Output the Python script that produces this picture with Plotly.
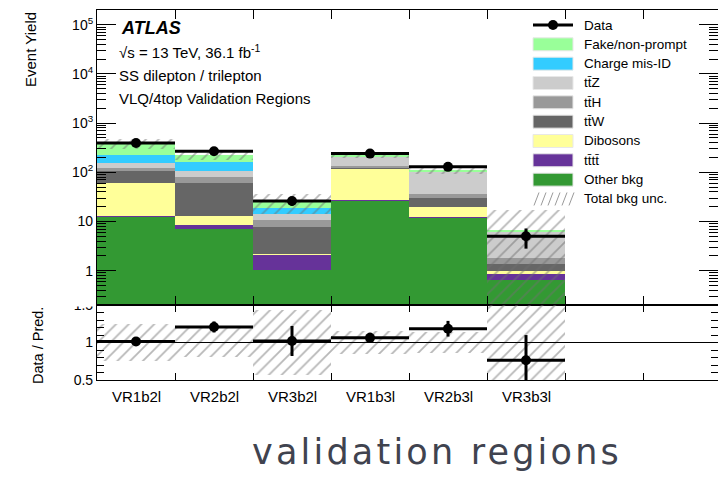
import math
import plotly.graph_objects as go

# ---------------------------------------------------------------------------
# Yields per validation region
# ---------------------------------------------------------------------------
regions = ["VR1b2l", "VR2b2l", "VR3b2l", "VR1b3l", "VR2b3l", "VR3b3l"]

# background components, listed from the bottom of the stack upwards
other_bkg    = [12.9, 7.0, 1.03, 27.2, 12.1, 0.65]
tttt         = [0.3, 1.5, 1.05, 0.3, 0.3, 0.21]
dibosons     = [47.8, 4.6, 0.1, 91.5, 7.5, 0.14]
ttW          = [46.0, 47.9, 5.6, 7.0, 9.5, 0.37]
ttH          = [18.0, 18.0, 2.7, 8.0, 7.6, 0.41]
ttZ          = [30.0, 28.0, 3.4, 71.0, 68.0, 4.42]
charge_misid = [67.0, 53.0, 4.6, 0.0, 0.0, 0.0]
fake_np      = [168.0, 62.0, 7.0, 21.0, 4.0, 0.35]

bkg_unc  = [97.0, 44.0, 11.0, 34.0, 15.0, 10.5]   # total background uncertainty
data     = [395, 268, 26, 240, 129, 5]
data_err = [19.9, 16.4, 5.1, 15.5, 11.4, 2.2]

components = [
    ("Other bkg", other_bkg, "#339933"),
    ("t\u0074\u0304t\u0074\u0304", tttt, "#663399"),
    ("Dibosons", dibosons, "#ffff99"),
    ("t\u0074\u0304W", ttW, "#666666"),
    ("t\u0074\u0304H", ttH, "#999999"),
    ("t\u0074\u0304Z", ttZ, "#cccccc"),
    ("Charge mis-ID", charge_misid, "#33ccff"),
    ("Fake/non-prompt", fake_np, "#99ff99"),
]

y_ticks = [1, 10, 100, 1e3, 1e4, 1e5]
y_tick_text = ["1", "10", "10<sup>2</sup>", "10<sup>3</sup>", "10<sup>4</sup>", "10<sup>5</sup>"]

# ---------------------------------------------------------------------------
# Page geometry
# ---------------------------------------------------------------------------
W, H = 718, 481
L, R, T, B = 97, 0, 10, 101
PW, PH = W - L - R, H - T - B
BIN_PX = 78.0
XMAX = PW / BIN_PX
SPLIT_PX = 305                      # boundary between the two panels
RATIO_TOP = (H - B - SPLIT_PX) / PH

FONT = "Liberation Sans, Arial, Helvetica, sans-serif"
HATCH = "#707070"
HATCH_PATTERN = dict(shape="/", fgcolor=HATCH, bgcolor="rgba(0,0,0,0)", size=9, solidity=0.2)


def px_x(px):
    return (px - L) / PW


def px_y(py):
    return (H - B - py) / PH


n = len(regions)
centers = [i + 0.5 for i in range(n)]
total = [sum(c[1][i] for c in components) for i in range(n)]
ratio = [d / t for d, t in zip(data, total)]
ratio_err = [e / t for e, t in zip(data_err, total)]
rel_unc = [u / t for u, t in zip(bkg_unc, total)]

fig = go.Figure()

# stacked backgrounds
for name, vals, col in components:
    fig.add_trace(go.Bar(
        x=centers, y=vals, width=1.0, name=name,
        marker=dict(color=col, line=dict(width=0)),
        xaxis="x", yaxis="y", hoverinfo="skip",
    ))

# total background uncertainty band (hatched)
unc_lo = [max(t - u, 0.05) for t, u in zip(total, bkg_unc)]
unc_hi = [t + u for t, u in zip(total, bkg_unc)]
fig.add_trace(go.Bar(
    x=centers, base=unc_lo, y=[h - l for h, l in zip(unc_hi, unc_lo)], width=1.0,
    marker=dict(color="rgba(0,0,0,0)", line=dict(width=0), pattern=HATCH_PATTERN),
    xaxis="x", yaxis="y", hoverinfo="skip",
))

# data
fig.add_trace(go.Scatter(
    x=centers, y=data, mode="markers",
    marker=dict(color="black", size=10),
    error_x=dict(type="constant", value=0.5, thickness=3, width=0, color="black"),
    error_y=dict(type="data", array=data_err, thickness=3, width=0, color="black"),
    xaxis="x", yaxis="y", hoverinfo="skip",
))

# ratio panel: relative uncertainty band
r_lo = [max(1 - r, 0.3) for r in rel_unc]
r_hi = [min(1 + r, 1.7) for r in rel_unc]
fig.add_trace(go.Bar(
    x=centers, base=r_lo, y=[h - l for h, l in zip(r_hi, r_lo)], width=1.0,
    marker=dict(color="rgba(0,0,0,0)", line=dict(width=0), pattern=HATCH_PATTERN),
    xaxis="x2", yaxis="y2", hoverinfo="skip",
))

fig.add_trace(go.Scatter(
    x=centers, y=ratio, mode="markers",
    marker=dict(color="black", size=10),
    error_x=dict(type="constant", value=0.5, thickness=3, width=0, color="black"),
    error_y=dict(type="data", array=ratio_err, thickness=3, width=0, color="black"),
    xaxis="x2", yaxis="y2", hoverinfo="skip", cliponaxis=True,
))

axis_common = dict(showgrid=False, zeroline=False, showline=True, linecolor="black",
                   linewidth=1.1, ticks="inside", tickcolor="black", tickwidth=1.2,
                   mirror="ticks")

minor_log = [k * 10 ** e for e in range(-1, 6) for k in range(2, 10)]

fig.update_layout(
    width=W, height=H,
    margin=dict(l=L, r=R, t=T, b=B, pad=0),
    paper_bgcolor="white", plot_bgcolor="white",
    barmode="stack", bargap=0, showlegend=False,
    font=dict(family=FONT, color="black"),
    xaxis=dict(axis_common, range=[0, XMAX], domain=[0, 1], anchor="y",
               tickvals=list(range(0, 9)), ticklen=9, showticklabels=False),
    yaxis=dict(axis_common, type="log", range=[math.log10(0.2), math.log10(2e5)],
               domain=[RATIO_TOP, 1], anchor="x",
               tickvals=y_ticks, ticktext=y_tick_text, ticklen=19,
               tickfont=dict(size=14, family=FONT, color="black"),
               minor=dict(tickvals=minor_log, ticks="inside", ticklen=9,
                          tickcolor="black", tickwidth=1)),
    xaxis2=dict(axis_common, range=[0, XMAX], domain=[0, 1], anchor="y2",
                tickvals=list(range(0, 9)), ticklen=7, showticklabels=False),
    yaxis2=dict(axis_common, range=[0.5, 1.5], domain=[0, RATIO_TOP], anchor="x2",
                tickvals=[0.5, 1, 1.5], ticktext=["0.5", "1", "1.5"], ticklen=12,
                tickfont=dict(size=14, family=FONT, color="black"),
                minor=dict(dtick=0.1, ticks="inside", ticklen=7,
                           tickcolor="black", tickwidth=1)),
)

shapes = []
annotations = []

# unity line in the ratio panel
shapes.append(dict(type="line", xref="x2 domain", yref="y2", x0=0, x1=1, y0=1, y1=1,
                   line=dict(color="black", width=1.2), layer="above"))

# upper pad hides the top of the ratio "1.5" label
shapes.append(dict(type="rect", xref="paper", yref="paper",
                   x0=px_x(55), x1=px_x(95.5), y0=px_y(306.5), y1=px_y(285),
                   fillcolor="white", line=dict(width=0), layer="above"))

# region labels below the ratio panel
for c, name in zip(centers, regions):
    annotations.append(dict(x=c, y=px_y(396), xref="x2", yref="paper", text=name,
                            showarrow=False, xanchor="center", yanchor="middle",
                            font=dict(size=15, family=FONT, color="black")))

# axis titles
annotations.append(dict(x=px_x(30), y=px_y(50), xref="paper", yref="paper",
                        text="Event Yield", textangle=-90, showarrow=False,
                        xanchor="center", yanchor="middle",
                        font=dict(size=15, family=FONT, color="black")))
annotations.append(dict(x=px_x(38), y=px_y(346), xref="paper", yref="paper",
                        text="Data / Pred.", textangle=-90, showarrow=False,
                        xanchor="center", yanchor="middle",
                        font=dict(size=14.5, family=FONT, color="black")))

# labels in the upper left corner
annotations.append(dict(x=px_x(119), y=px_y(28), xref="paper", yref="paper",
                        text="<b><i>ATLAS</i></b>", showarrow=False,
                        xanchor="left", yanchor="middle",
                        font=dict(size=18, family=FONT, color="black")))
info_lines = ["\u221as = 13 TeV, 36.1 fb<sup>-1</sup>",
              "SS dilepton / trilepton",
              "VLQ/4top Validation Regions"]
for k, txt in enumerate(info_lines):
    annotations.append(dict(x=px_x(117), y=px_y(52 + 23 * k), xref="paper", yref="paper",
                            text=txt, showarrow=False, xanchor="left", yanchor="middle",
                            font=dict(size=15, family=FONT, color="black")))

# legend
LEG_X0, LEG_X1, LEG_TXT = 533, 573, 582
LEG_Y0, LEG_DY, BOX_H = 25, 19.33, 13
legend_rows = ["Data"] + [c[0] for c in components[::-1]] + ["Total bkg unc."]
legend_cols = {c[0]: c[2] for c in components}
for k, label in enumerate(legend_rows):
    yc = LEG_Y0 + k * LEG_DY
    if label == "Data":
        shapes.append(dict(type="line", xref="paper", yref="paper",
                           x0=px_x(LEG_X0), x1=px_x(LEG_X1), y0=px_y(yc), y1=px_y(yc),
                           line=dict(color="black", width=3)))
        shapes.append(dict(type="circle", xref="paper", yref="paper",
                           x0=px_x(553 - 5), x1=px_x(553 + 5),
                           y0=px_y(yc + 5), y1=px_y(yc - 5),
                           fillcolor="black", line=dict(color="black", width=0)))
    elif label == "Total bkg unc.":
        for j in range(6):
            xb = LEG_X0 + 1 + j * 7
            shapes.append(dict(type="line", xref="paper", yref="paper",
                               x0=px_x(xb), x1=px_x(xb + 5),
                               y0=px_y(yc + BOX_H / 2), y1=px_y(yc - BOX_H / 2),
                               line=dict(color="#9a9a9a", width=1)))
    else:
        shapes.append(dict(type="rect", xref="paper", yref="paper",
                           x0=px_x(LEG_X0), x1=px_x(LEG_X1),
                           y0=px_y(yc + BOX_H / 2), y1=px_y(yc - BOX_H / 2),
                           fillcolor=legend_cols[label], line=dict(color="#e8e8e8", width=1)))
    annotations.append(dict(x=px_x(LEG_TXT), y=px_y(yc), xref="paper", yref="paper",
                            text=label, showarrow=False, xanchor="left", yanchor="middle",
                            font=dict(size=13.5, family=FONT, color="black")))

# caption under the figure
annotations.append(dict(x=px_x(437), y=px_y(452), xref="paper", yref="paper",
                        text='<span style="letter-spacing:3.2px">validation regions</span>',
                        showarrow=False, xanchor="center", yanchor="middle",
                        font=dict(size=35, family="DejaVu Sans, Verdana, sans-serif",
                                  color="#40434f")))

fig.update_layout(shapes=shapes, annotations=annotations)

fig.write_html("out.html")
